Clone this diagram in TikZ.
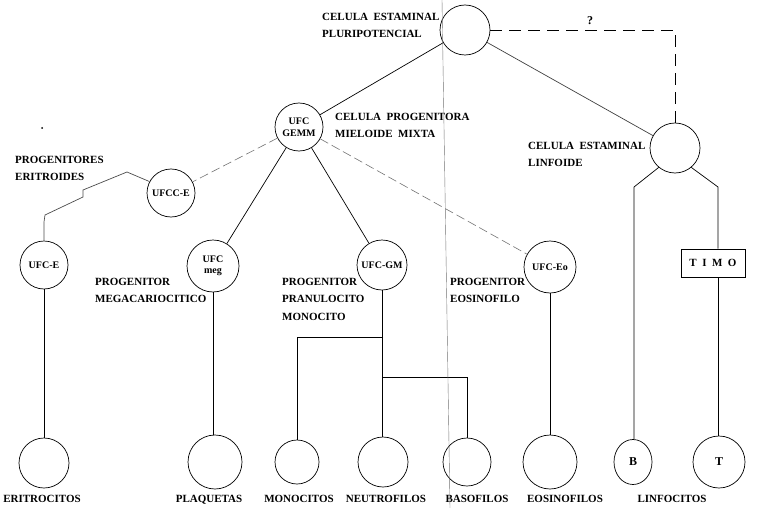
\documentclass[tikz,border=0pt]{standalone}
\usepackage{fontspec}
\setmainfont{Liberation Serif}
\usetikzlibrary{calc,shapes.geometric}
\begin{document}
\begin{tikzpicture}[x=1pt,y=-1pt,
  lbl/.style={font=\bfseries\fontsize{11}{17.5}\selectfont, align=left, anchor=north west, inner sep=0pt},
  blbl/.style={font=\bfseries\fontsize{11}{12}\selectfont, anchor=north, inner sep=0pt},
  cell/.style={draw, circle, line width=0.7pt, inner sep=0pt, minimum size=#1, font=\bfseries\fontsize{10}{11.5}\selectfont, align=center},
  cell/.default=50pt,
  link/.style={line width=0.7pt},
  faint/.style={line width=0.6pt, draw=black!55, dash pattern=on 9pt off 4pt},
  dsh/.style={line width=0.8pt, dash pattern=on 12pt off 7pt}]
\useasboundingbox (0,0) rectangle (757,508);
% nodes
\node[cell=50pt] (plu) at (465,30) {};
\node[cell=48pt] (gemm) at (299,127) {UFC\\GEMM};
\node[cell=48pt] (ufcce) at (171,193) {UFCC-E};
\node[cell=48pt] (ufce) at (44,265) {UFC-E};
\node[cell=52pt] (meg) at (213,266) {UFC\\meg};
\node[cell=50pt] (gm) at (382,265) {UFC-GM};
\node[cell=52pt] (eo) at (550,267) {UFC-Eo};
\node[cell=50pt] (lin) at (675,148) {};
\node[draw, line width=0.7pt, minimum width=64pt, minimum height=28pt, inner sep=0pt, font=\bfseries\fontsize{11}{12}\selectfont] (timo) at (713,263) {T\ \ I\ \ M\ \ O};
% bottom cells
\node[cell=50pt] (eri) at (44,463) {};
\node[cell=54pt] (pla) at (215,462) {};
\node[cell=44pt] (mon) at (297,462) {};
\node[cell=50pt] (neu) at (383,462) {};
\node[cell=48pt] (bas) at (467,462) {};
\node[cell=54pt] (eos) at (550,462) {};
\node[draw, ellipse, line width=0.7pt, minimum width=38pt, minimum height=45pt, inner sep=0pt, font=\bfseries\fontsize{12}{12}\selectfont] (bl) at (633,462) {B};
\node[cell=52pt, font=\bfseries\fontsize{12}{12}\selectfont] (tl) at (719,462) {T};
% labels
\node[lbl] (lpl) at (322,13) {CELULA\ \ ESTAMINAL\\PLURIPOTENCIAL};
\node[lbl] (lmi) at (335,113) {CELULA\ \ PROGENITORA\\MIELOIDE\ \ MIXTA};
\node[lbl] (ler) at (15,156) {PROGENITORES\\ERITROIDES};
\node[lbl] (lme) at (95,278) {PROGENITOR\\MEGACARIOCITICO};
\node[lbl] (lgm) at (282,278) {PROGENITOR\\PRANULOCITO\\MONOCITO};
\node[lbl] (leo) at (450,278) {PROGENITOR\\EOSINOFILO};
\node[lbl] (lli) at (528,142) {CELULA\ \ ESTAMINAL\\LINFOIDE};
\node[font=\bfseries\fontsize{12}{12}\selectfont, inner sep=0pt] (q) at (590,21) {?};
\node[blbl] (b1) at (42,495) {ERITROCITOS};
\node[blbl] (b2) at (209,495) {PLAQUETAS};
\node[blbl] (b3) at (299,495) {MONOCITOS};
\node[blbl] (b4) at (386,495) {NEUTROFILOS};
\node[blbl] (b5) at (477,495) {BASOFILOS};
\node[blbl] (b6) at (565,495) {EOSINOFILOS};
\node[blbl] (b7) at (672,495) {LINFOCITOS};
% connectors
\draw[link] (plu) -- (gemm);
\draw[link, draw=black!75] (plu) -- (lin);
\draw[dsh] (plu.east) -| (lin.north);
\draw[faint] (gemm) -- (ufcce);
\draw[link] (gemm) -- (meg);
\draw[link] (gemm) -- (gm);
\draw[faint] (gemm) -- (eo);
\coordinate (e1) at (127,172);
\coordinate (e2) at (83,190);
\coordinate (e3) at (83,197);
\coordinate (e4) at (45,215);
\coordinate (e5) at (44,222);
\draw[link, draw=black!70] (ufcce.152) -- (e1) -- (e2) -- (e3) -- (e4) -- (e5) -- (ufce.north);
\draw[link] (ufce) -- (eri);
\draw[link] (meg.south) -- (meg.south |- pla.north);
\draw[link] (gm.south) -- (gm.south |- neu.north);
\coordinate (j1) at (383,337);
\coordinate (j2) at (383,377);
\draw[link] (j1) -| (mon.north);
\draw[link] (j2) -| (bas.north);
\draw[link] (eo.south) -- (eo.south |- eos.north);
\coordinate (lb) at (634,187);
\coordinate (lt) at (718,187);
\draw[link] (lin.230) -- (lb) -- (lb |- bl.north);
\draw[link] (lin.310) -- (lt) -- (lt |- timo.north);
\draw[link] (lt |- timo.south) -- (lt |- tl.north);
% scan artefacts
\draw[black!55, line width=0.4pt] (442,0) -- (450,508);
\fill (42,128) circle (1pt);
\end{tikzpicture}
\end{document}
